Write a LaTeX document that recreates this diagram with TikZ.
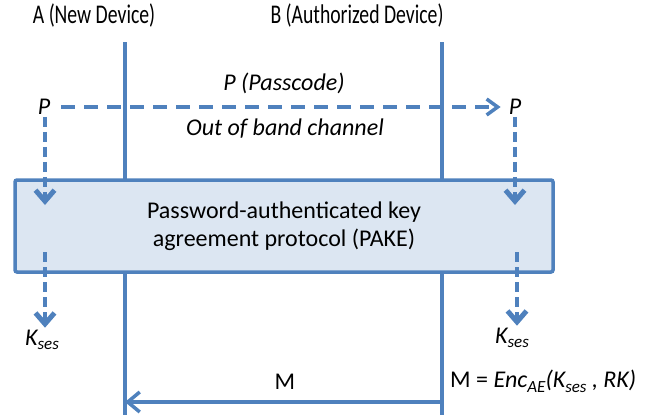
\documentclass[tikz,border=0pt]{standalone}
\usepackage{fontspec}
\setmainfont{Carlito}
\newfontfamily\hdrfont[FakeStretch=0.73]{Carlito}
\usetikzlibrary{arrows.meta}
\definecolor{lineblue}{HTML}{4F81BD}
\definecolor{boxfill}{HTML}{DCE6F2}
\newcommand{\mysub}[1]{\raisebox{-0.4ex}{\fontsize{17}{17}\selectfont #1}}
\begin{document}
\begin{tikzpicture}[x=1pt,y=-1pt,
  hdr/.style={font=\hdrfont\fontsize{27}{30}\selectfont, inner sep=0pt},
  txt/.style={font=\fontsize{24}{28}\selectfont, inner sep=2pt},
  itxt/.style={font=\itshape\fontsize{24}{28}\selectfont, inner sep=2pt},
  lifeline/.style={draw=lineblue, line width=3.5pt},
  pakebox/.style={draw=lineblue, fill=boxfill, line width=3.5pt, rounded corners=2pt,
    minimum width=538pt, minimum height=92pt, align=center,
    font=\fontsize{24}{28}\selectfont},
  hdash/.style={draw=lineblue, line width=3.5pt, dash pattern=on 14pt off 9pt,
    -{Straight Barb[length=11pt,width=16pt,line width=3.5pt]}},
  vdash/.style={draw=lineblue, line width=4pt, dash pattern=on 10pt off 5pt,
    -{Straight Barb[length=11pt,width=19pt,line width=5pt]}},
  msgarrow/.style={draw=lineblue, line width=3.5pt,
    -{Straight Barb[length=12pt,width=20pt,line width=3.5pt]}}
]
\useasboundingbox (0,0) rectangle (657,415);

% headers
\node[hdr] (hA) at (94,15) {A (New Device)};
\node[hdr] (hB) at (357,15) {B (Authorized Device)};

% lifelines
\coordinate (Atop) at (125,42);
\coordinate (Abot) at (125,415);
\coordinate (Btop) at (442,42);
\coordinate (Bbot) at (442,415);
\draw[lifeline] (Atop) -- (Abot);
\draw[lifeline] (Btop) -- (Bbot);

% out of band channel
\node[itxt] (pL) at (44,107) {P};
\node[itxt] (pR) at (515,107) {P};
\draw[hdash, shorten <=9pt, shorten >=6pt] (pL.east) -- (pR.west);
\node[itxt] (pc) at (284,83) {P (Passcode)};
\node[itxt] (oob) at (285,129) {Out of band channel};

% PAKE box
\node[pakebox] (pake) at (284,226) {Password-authenticated key\\agreement protocol (PAKE)};

% inputs
\coordinate (inL) at (45,205);
\coordinate (inR) at (515,205);
\draw[vdash] (pL.south -| inL) -- (inL);
\draw[vdash] (pR.south -| inR) -- (inR);

% outputs
\node[itxt] (kL) at (42,340) {K\mysub{ses}};
\node[itxt] (kR) at (512,338) {K\mysub{ses}};
\coordinate (outL) at (45,252);
\coordinate (outR) at (517,252);
\draw[vdash] (outL) -- (outL |- kL.north);
\draw[vdash] (outR) -- (outR |- kR.north);

% message
\coordinate (mB) at (442,402);
\coordinate (mA) at (125,402);
\draw[msgarrow] (mB) -- (mA);
\node[txt] (mlab) at (285,382) {M};
\node[txt, anchor=west] (menc) at (448,381) {M = \textit{Enc\mysub{AE}(K\mysub{ses} , RK)}};
\end{tikzpicture}
\end{document}
